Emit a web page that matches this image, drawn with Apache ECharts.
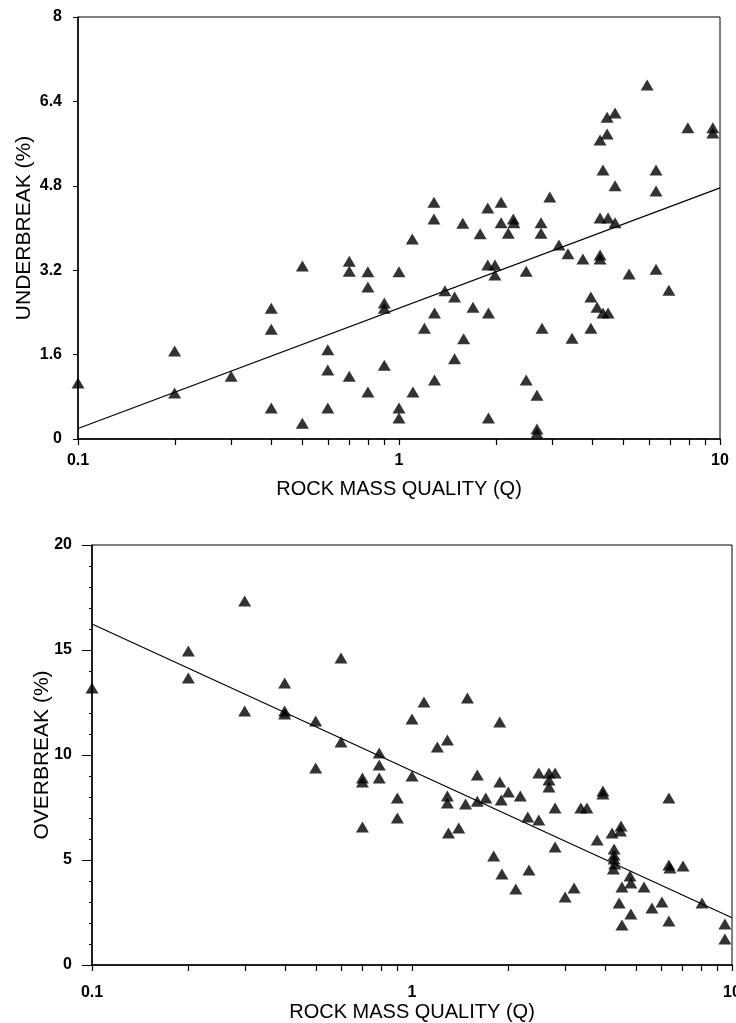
<!DOCTYPE html>
<html>
<head>
<meta charset="utf-8">
<script src="https://cdn.jsdelivr.net/npm/echarts@6/dist/echarts.min.js"></script>
<style>
  html, body { margin: 0; padding: 0; background: #fff; }
  #main { width: 736px; height: 1023px; }
</style>
</head>
<body>
<div id="main"></div>
<script>
// underbreak vs Q (top panel)
const underQ = [0.1, 0.2, 0.2, 0.3, 0.4, 0.4, 0.4, 0.5, 0.5, 0.6, 0.6, 0.6, 0.7, 0.7, 0.7,
  0.8, 0.8, 0.8, 0.9, 0.9, 0.9, 1.0, 1.0, 1.0, 1.1, 1.105, 1.2, 1.29, 1.29, 1.285, 1.285,
  1.39, 1.49, 1.49, 1.58, 1.59, 1.70, 1.79, 1.89, 1.89, 1.90, 1.90, 1.99, 1.99, 2.08, 2.08,
  2.19, 2.27, 2.28, 2.49, 2.49, 2.69, 2.69, 2.69, 2.77, 2.77, 2.79, 2.95, 3.15, 3.36, 3.46,
  3.74, 3.96, 3.96, 4.14, 4.23, 4.23, 4.23, 4.23, 4.32, 4.32, 4.45, 4.45, 4.48, 4.48,
  4.71, 4.71, 4.71, 5.21, 5.93, 6.32, 6.32, 6.32, 6.93, 7.94, 9.5, 9.5];
const underPct = [1.06, 1.67, 0.87, 1.19, 2.48, 2.08, 0.59, 3.28, 0.30, 1.69, 1.31, 0.59, 3.37, 3.18, 1.19,
  3.17, 2.88, 0.89, 2.58, 2.48, 1.40, 3.17, 0.59, 0.40, 3.79, 0.89, 2.10, 2.39, 1.12, 4.49, 4.17,
  2.81, 2.69, 1.52, 4.09, 1.90, 2.50, 3.89, 4.38, 3.30, 2.39, 0.40, 3.30, 3.11, 4.49, 4.10,
  3.90, 4.17, 4.10, 3.18, 1.12, 0.83, 0.19, 0.11, 4.10, 3.90, 2.10, 4.59, 3.68, 3.51, 1.91,
  3.41, 2.69, 2.10, 2.50, 5.67, 4.19, 3.49, 3.41, 5.10, 2.39, 6.10, 5.78, 4.19, 2.39,
  6.18, 4.80, 4.10, 3.13, 6.71, 5.10, 4.70, 3.22, 2.82, 5.90, 5.90, 5.80];

// overbreak vs Q (bottom panel)
const overQ = [0.1, 0.2, 0.2, 0.3, 0.3, 0.4, 0.4, 0.4, 0.5, 0.5, 0.6, 0.6, 0.7, 0.7, 0.7,
  0.79, 0.79, 0.79, 0.9, 0.9, 1.0, 1.0, 1.09, 1.2, 1.29, 1.29, 1.29, 1.30, 1.40, 1.49, 1.47,
  1.6, 1.6, 1.70, 1.80, 1.88, 1.88, 1.90, 1.91, 2.0, 2.11, 2.18, 2.30, 2.32, 2.49, 2.49,
  2.68, 2.68, 2.68, 2.8, 2.8, 2.8, 3.01, 3.21, 3.37, 3.52, 3.79, 3.95, 3.95, 4.22,
  4.28, 4.28, 4.28, 4.3, 4.26, 4.44, 4.5, 4.48, 4.53, 4.53, 4.8, 4.83, 4.83, 5.31, 5.62,
  6.04, 6.35, 6.35, 6.4, 6.35, 7.03, 8.06, 9.5, 9.5];
const overPct = [13.19, 14.95, 13.67, 17.33, 12.1, 13.43, 12.1, 11.95, 11.62, 9.38, 14.62, 10.62, 8.9, 8.71, 6.57,
  10.1, 9.52, 8.9, 7.95, 7.0, 11.71, 9.0, 12.52, 10.38, 10.71, 8.05, 7.71, 6.29, 6.52, 12.71, 7.67,
  9.05, 7.8, 7.95, 5.19, 11.57, 8.71, 7.86, 4.33, 8.24, 3.62, 8.05, 7.05, 4.52, 9.14, 6.9,
  9.14, 8.81, 8.48, 9.14, 7.48, 5.62, 3.24, 3.67, 7.48, 7.48, 5.95, 8.29, 8.14, 6.29,
  5.52, 5.24, 5.05, 4.81, 4.57, 2.95, 6.62, 6.38, 3.71, 1.9, 4.24, 3.9, 2.43, 3.71, 2.71,
  3.0, 7.95, 4.76, 4.62, 2.1, 4.71, 2.95, 1.95, 1.24];

// fitted lines (end points)
const trendQ = [0.1, 10];
const underTrend = [0.2, 4.76];
const overTrend = [16.24, 2.25];

// tick marks on the log axis
const qTicks = [0.1, 0.2, 0.3, 0.4, 0.5, 0.6, 0.7, 0.8, 0.9, 1, 2, 3, 4, 5, 6, 7, 8, 9, 10];
const underTicks = [0, 1.6, 3.2, 4.8, 6.4, 8];
const overTicks = [0, 5, 10, 15, 20];

const zip = (a, b) => a.map((v, i) => [v, b[i]]);
const FONT = "'Liberation Sans', Arial, sans-serif";

function xAxisFor(gridIndex, labelMargin, nameGap) {
  return {
    gridIndex: gridIndex,
    type: 'log',
    logBase: 10,
    min: 0.1,
    max: 10,
    name: 'ROCK MASS QUALITY (Q)',
    nameLocation: 'middle',
    nameGap: nameGap,
    nameMoveOverlap: false,
    nameTextStyle: { color: '#000', fontSize: 20, fontFamily: FONT },
    axisLine: { lineStyle: { color: '#000', width: 1.5 } },
    axisTick: { show: false },
    axisLabel: { color: '#000', fontSize: 16, fontWeight: 'bold', fontFamily: FONT, margin: labelMargin },
    splitLine: { show: false }
  };
}

function yAxisFor(gridIndex, name, ticks, labelMargin, nameGap, minor) {
  return {
    gridIndex: gridIndex,
    type: 'value',
    min: ticks[0],
    max: ticks[ticks.length - 1],
    interval: ticks[1] - ticks[0],
    name: name,
    nameLocation: 'middle',
    nameGap: nameGap,
    nameMoveOverlap: false,
    nameTextStyle: { color: '#000', fontSize: 21, fontFamily: FONT },
    axisLine: { show: true, onZero: false, lineStyle: { color: '#000', width: 1.5 } },
    axisTick: { show: true, length: minor ? 10 : 5, lineStyle: { color: '#000', width: 1 } },
    minorTick: { show: minor, splitNumber: 5, length: 3, lineStyle: { color: '#000', width: 1 } },
    axisLabel: { color: '#000', fontSize: 16, fontWeight: 'bold', fontFamily: FONT, margin: labelMargin },
    splitLine: { show: false },
    minorSplitLine: { show: false }
  };
}

const pointStyle = {
  type: 'scatter',
  symbol: 'triangle',
  symbolSize: [13, 11],
  itemStyle: { color: '#000' },
  clip: false,
  z: 3
};

const lineStyle = {
  type: 'line',
  symbol: 'none',
  lineStyle: { color: '#000', width: 1.2 },
  z: 2
};

// short tick strokes hanging under the log axis at 0.1, 0.2 ... 10
function tickSeries(index) {
  return {
    type: 'custom',
    coordinateSystem: 'cartesian2d',
    xAxisIndex: index,
    yAxisIndex: index,
    silent: true,
    clip: false,
    z: 10,
    data: qTicks.map(q => [q, 0]),
    renderItem: function (params, api) {
      const p = api.coord([api.value(0), api.value(1)]);
      const x = Math.round(p[0]) + 0.5;
      return {
        type: 'line',
        shape: { x1: x, y1: p[1], x2: x, y2: p[1] + 6 },
        style: { stroke: '#000', lineWidth: 1.2 }
      };
    }
  };
}

const option = {
  animation: false,
  backgroundColor: '#fff',
  grid: [
    { left: 78, top: 17, width: 642, height: 422, show: true, borderColor: '#000', borderWidth: 1, outerBoundsMode: 'none' },
    { left: 92, top: 545, width: 640, height: 420, show: true, borderColor: '#000', borderWidth: 1, outerBoundsMode: 'none' }
  ],
  xAxis: [xAxisFor(0, 14, 40), xAxisFor(1, 20, 37)],
  yAxis: [
    yAxisFor(0, 'UNDERBREAK (%)', underTicks, 16, 43, false),
    yAxisFor(1, 'OVERBREAK (%)', overTicks, 20, 39, true)
  ],
  series: [
    Object.assign({}, pointStyle, { xAxisIndex: 0, yAxisIndex: 0, data: zip(underQ, underPct) }),
    Object.assign({}, lineStyle, { xAxisIndex: 0, yAxisIndex: 0, data: zip(trendQ, underTrend) }),
    Object.assign({}, pointStyle, { xAxisIndex: 1, yAxisIndex: 1, data: zip(overQ, overPct) }),
    Object.assign({}, lineStyle, { xAxisIndex: 1, yAxisIndex: 1, data: zip(trendQ, overTrend) }),
    tickSeries(0),
    tickSeries(1)
  ]
};

const chart = echarts.init(document.getElementById('main'));
chart.setOption(option);
</script>
</body>
</html>
